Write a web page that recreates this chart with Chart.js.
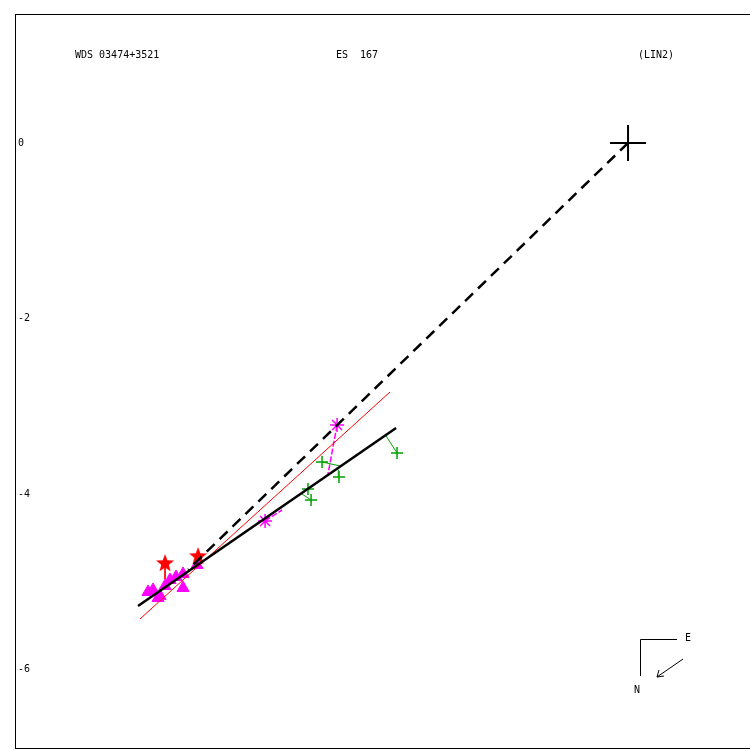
<!DOCTYPE html>
<html>
<head>
<meta charset="utf-8">
<script src="https://cdn.jsdelivr.net/npm/chart.js@4.4.0/dist/chart.umd.min.js"></script>
<style>
  body { margin: 0; background: #fff; }
  #wrap { width: 750px; height: 750px; }
</style>
</head>
<body>
<div id="wrap"><canvas id="my-chart"></canvas></div>
<script>
// header texts and y ticks
const headerLabels = ['WDS 03474+3521', 'ES  167', '(LIN2)'];
const yTickValues = [0, -2, -4, -6];

// linear fit (solid), line to primary (dashed), red line
const fitLineX = [-2.642, -5.581];
const fitLineY = [-3.246, -5.273];
const dashLineX = [0, -5.01];
const dashLineY = [0, -4.86];
const redLineX = [-2.711, -5.558];
const redLineY = [-2.836, -5.421];

// green crosses and their O-C end points
const greenX = [-3.485, -3.292, -3.645, -3.610, -2.631];
const greenY = [-3.633, -3.804, -3.941, -4.066, -3.531];
const greenFitX = [-3.280, -3.300, -3.640, -3.713, -2.756];
const greenFitY = [-3.679, -3.720, -3.938, -3.998, -3.337];

// magenta asterisks
const asterX = [-3.314, -4.134];
const asterY = [-3.212, -4.305];
const asterFitX = [-3.417, -3.941];
const asterFitY = [-3.770, -4.180];

// red stars
const starX = [-5.273, -4.897];
const starY = [-4.784, -4.704];
const starFitX = [-5.273, -4.910];
const starFitY = [-4.966, -4.800];

// magenta triangles
const triX = [-5.467, -5.410, -5.330, -5.353, -5.273, -5.216, -5.148, -5.068, -5.068, -4.909];
const triY = [-5.114, -5.091, -5.159, -5.182, -5.046, -4.977, -4.943, -4.909, -5.068, -4.806];

const pts = (xs, ys) => xs.map((x, i) => ({ x: x, y: ys[i] }));

// filled red star image
const starImg = document.createElement('canvas');
starImg.width = 20; starImg.height = 20;
(function () {
  const c = starImg.getContext('2d');
  c.fillStyle = '#ff0000';
  c.beginPath();
  for (let i = 0; i < 10; i++) {
    const r = i % 2 === 0 ? 9.5 : 4;
    const a = -Math.PI / 2 + i * Math.PI / 5;
    c.lineTo(10 + r * Math.cos(a), 10.5 + r * Math.sin(a));
  }
  c.closePath();
  c.fill();
})();

function lineSet(xs, ys, color, width, dash) {
  return {
    data: pts(xs, ys),
    showLine: true,
    borderColor: color,
    borderWidth: width,
    borderDash: dash || [],
    pointRadius: 0,
    fill: false
  };
}

const datasets = [];
datasets.push(lineSet(fitLineX, fitLineY, '#000', 2.5));
datasets.push(lineSet(dashLineX, dashLineY, '#000', 2.5, [11, 7]));
datasets.push(lineSet(redLineX, redLineY, '#ff0000', 1));
greenX.forEach((x, i) => datasets.push(lineSet([x, greenFitX[i]], [greenY[i], greenFitY[i]], '#00a000', 1)));
asterX.forEach((x, i) => datasets.push(lineSet([x, asterFitX[i]], [asterY[i], asterFitY[i]], '#ff00ff', 1.5, [6, 2])));
starX.forEach((x, i) => datasets.push(lineSet([x, starFitX[i]], [starY[i], starFitY[i]], '#ff0000', 1)));

datasets.push({
  data: [{ x: 0, y: 0 }],
  pointStyle: 'cross', pointRadius: 18, borderColor: '#000', borderWidth: 2
});
datasets.push({
  data: pts(greenX, greenY),
  pointStyle: 'cross', pointRadius: 6, borderColor: '#00a000', borderWidth: 1.5
});
datasets.push({
  data: pts(asterX, asterY),
  pointStyle: 'star', pointRadius: 7, borderColor: '#ff00ff', borderWidth: 1.5
});
datasets.push({
  data: pts(starX, starY),
  pointStyle: starImg
});
datasets.push({
  data: pts(triX, triY),
  pointStyle: 'triangle', pointRadius: 7, backgroundColor: '#ff00ff', borderColor: '#ff00ff', borderWidth: 1
});

const decor = {
  id: 'decor',
  afterDraw(chart) {
    const c = chart.ctx, a = chart.chartArea, ys = chart.scales.y;
    c.save();
    c.strokeStyle = '#000';
    c.lineWidth = 1;
    c.strokeRect(a.left + 0.5, a.top + 0.5, a.right - a.left, a.bottom - a.top - 1);
    c.fillStyle = '#000';
    c.font = '10px "DejaVu Sans Mono"';
    c.textBaseline = 'middle';
    yTickValues.forEach(v => c.fillText(String(v), a.left + 3, ys.getPixelForValue(v)));
    c.fillText(headerLabels[0], 75, 55);
    c.fillText(headerLabels[1], 336, 55);
    c.fillText(headerLabels[2], 638, 55);
    // orientation
    c.beginPath();
    c.moveTo(640.5, 676); c.lineTo(640.5, 639.5); c.lineTo(677, 639.5);
    c.moveTo(683, 659); c.lineTo(657, 677);
    c.moveTo(657, 677); c.lineTo(659, 670);
    c.moveTo(657, 677); c.lineTo(664, 676);
    c.stroke();
    c.fillText('E', 685, 638);
    c.fillText('N', 634, 690);
    c.restore();
  }
};

new Chart(document.querySelector('#my-chart'), {
  type: 'scatter',
  data: { datasets: datasets },
  options: {
    responsive: true,
    maintainAspectRatio: false,
    animation: false,
    events: [],
    layout: { autoPadding: false, padding: { left: 15, top: 14, right: 0, bottom: 1 } },
    plugins: { legend: { display: false }, tooltip: { enabled: false } },
    scales: {
      x: { display: false, min: -6.982, max: 1.389 },
      y: { display: false, min: -6.902, max: 1.469 }
    }
  },
  plugins: [decor]
});
</script>
</body>
</html>
